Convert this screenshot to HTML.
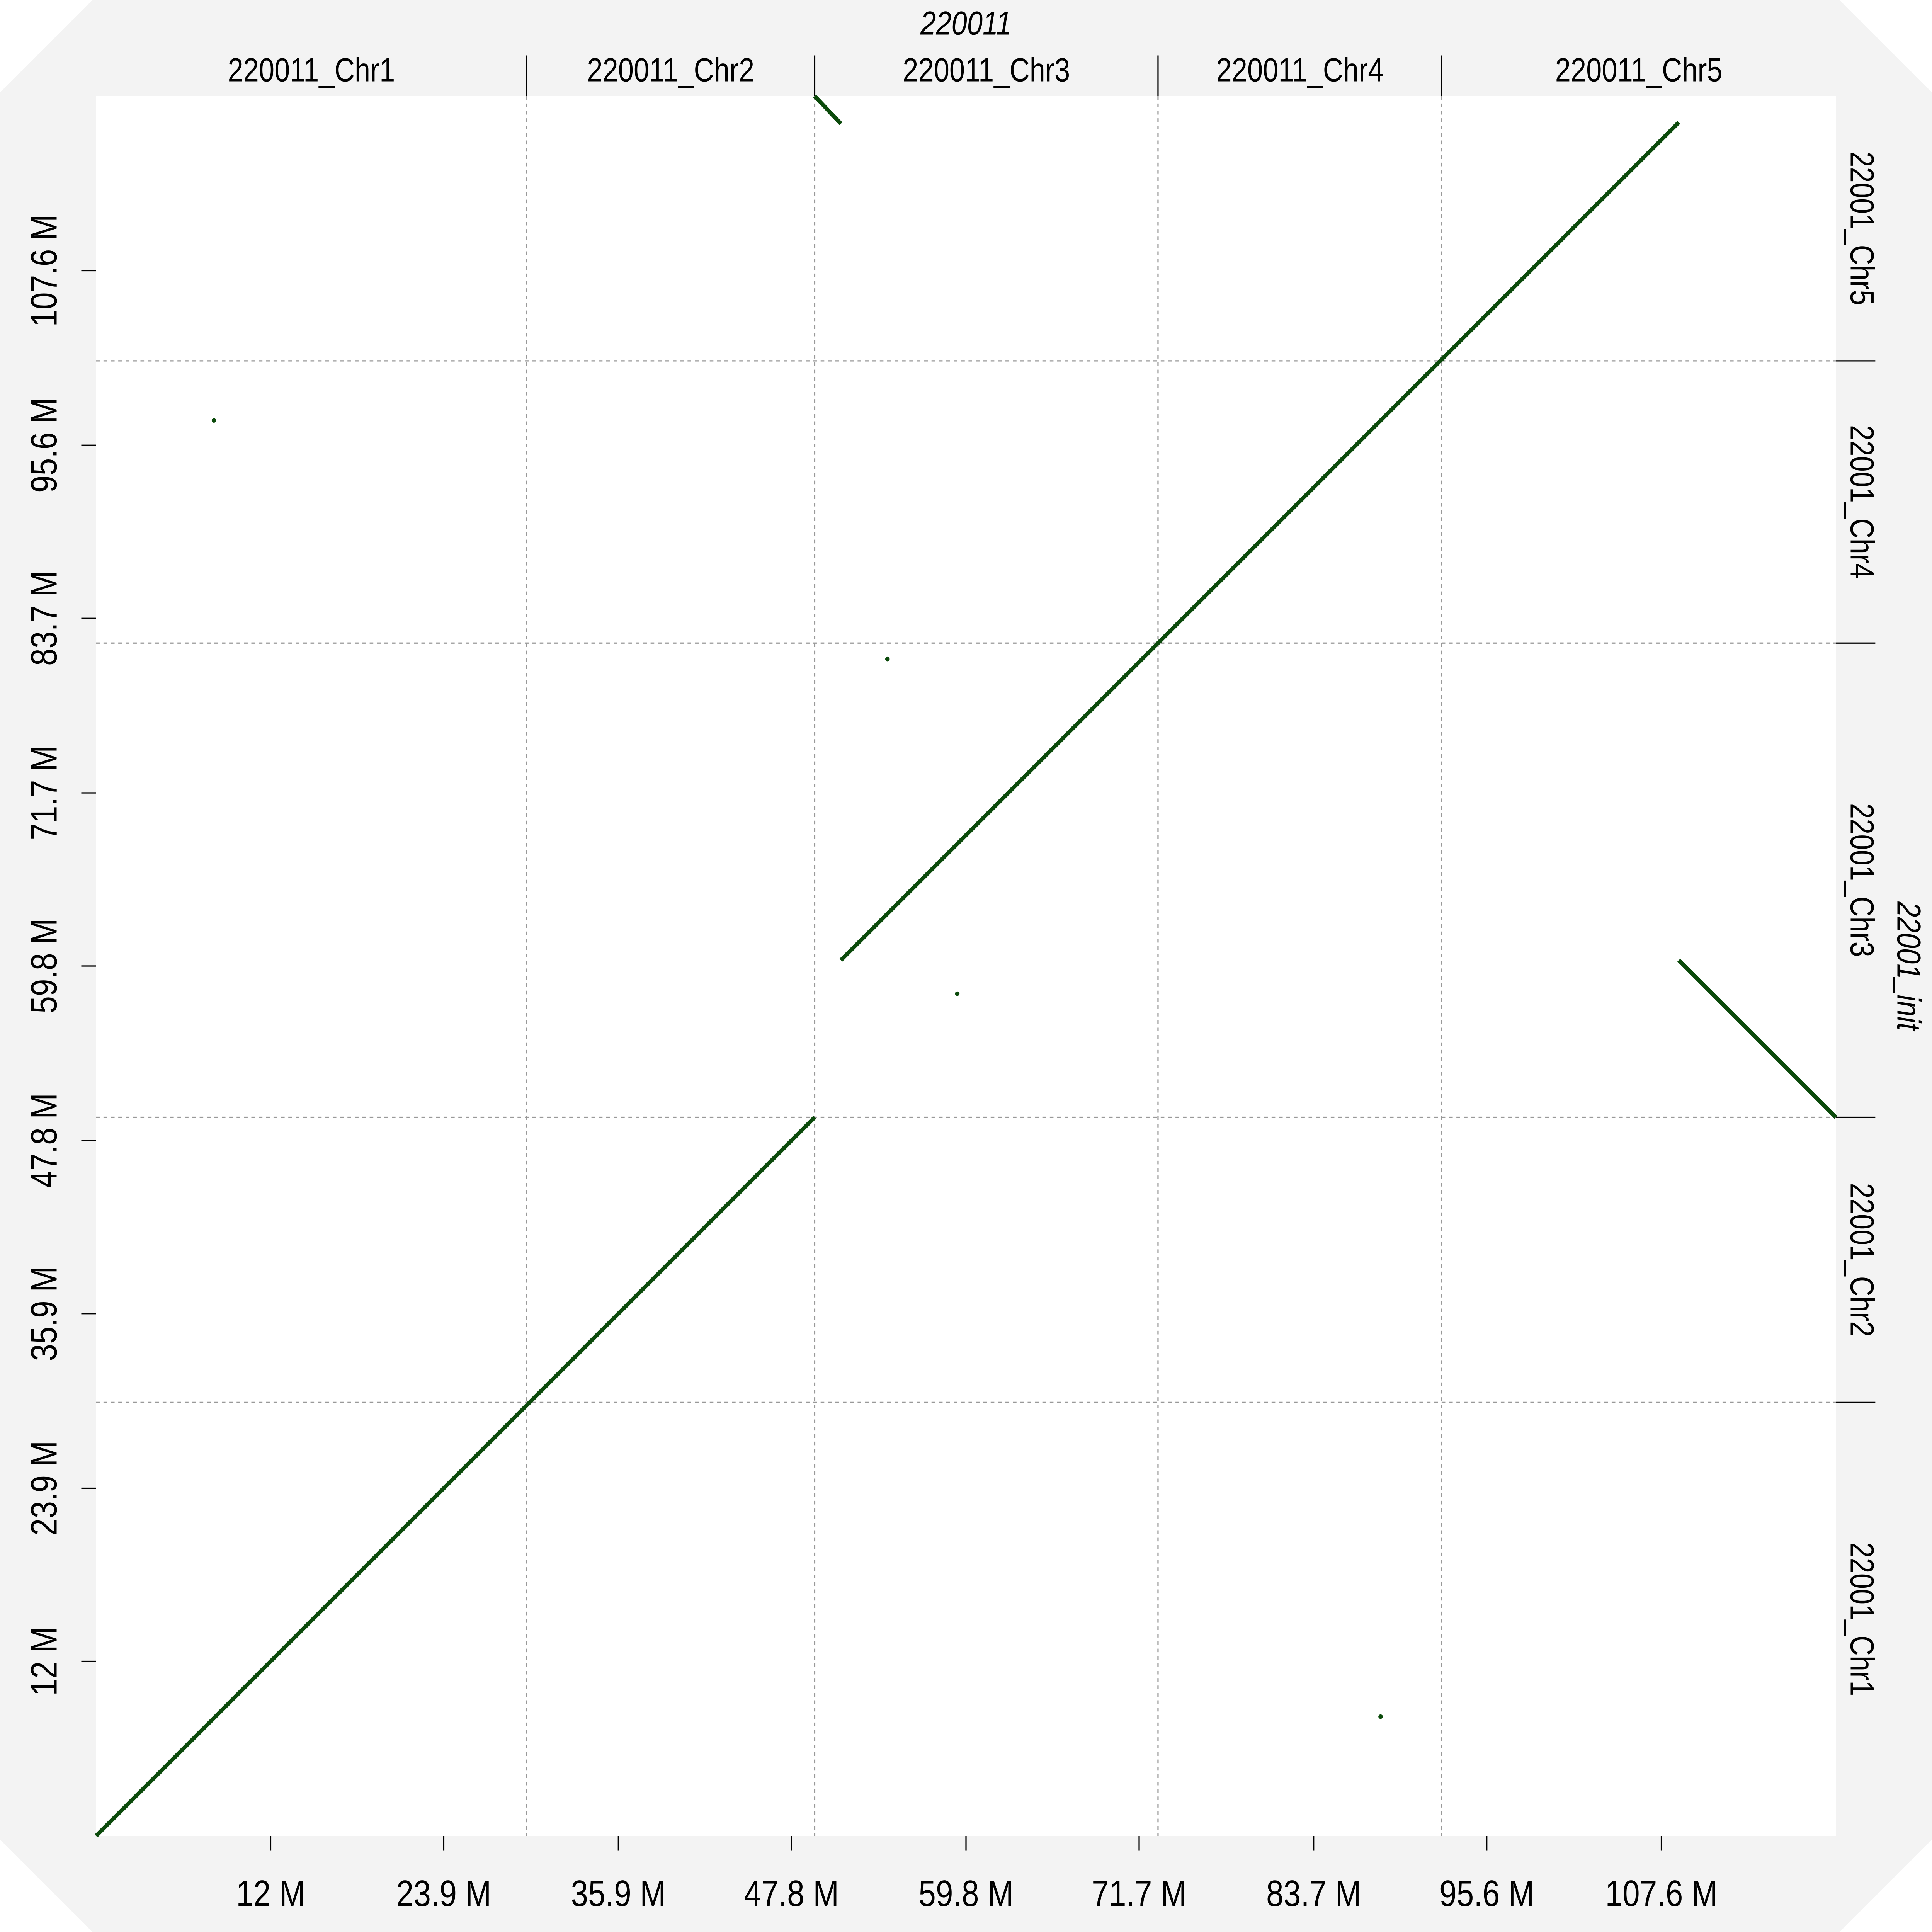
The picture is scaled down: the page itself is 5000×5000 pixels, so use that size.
<!DOCTYPE html>
<html><head><meta charset="utf-8"><style>
html,body{margin:0;padding:0;background:#fff}
svg{display:block}
text{font-family:"Liberation Sans Narrow","Liberation Sans",sans-serif;fill:#000}
</style></head><body>
<svg id="chart" width="5000" height="5000" viewBox="0 0 1568 1568" xmlns="http://www.w3.org/2000/svg">
<rect x="0" y="0" width="1568" height="1568" fill="#f3f3f3"/>
<polygon points="0,0 75,0 0,75" fill="#fff"/>
<polygon points="1568,0 1493,0 1568,75" fill="#fff"/>
<polygon points="0,1568 75,1568 0,1493" fill="#fff"/>
<polygon points="1568,1568 1493,1568 1568,1493" fill="#fff"/>
<rect x="78" y="78" width="1412" height="1412" fill="#fff"/>
<g id="g"></g>
</svg>
<script>
const xTicks=[12,23.9,35.9,47.8,59.8,71.7,83.7,95.6,107.6];
const yTicks=[12,23.9,35.9,47.8,59.8,71.7,83.7,95.6,107.6];
const xChrNames=["220011_Chr1","220011_Chr2","220011_Chr3","220011_Chr4","220011_Chr5"];
const xChrEnds=[29.6,49.4,73.0,92.5,119.6];
const yChrNames=["22001_Chr1","22001_Chr2","22001_Chr3","22001_Chr4","22001_Chr5"];
const yChrEnds=[29.8,49.4,82.0,101.4,119.6];
const segX1=[0,51.2,49.4,108.8];
const segY1=[0,60.2,119.6,60.2];
const segX2=[49.4,108.8,51.2,119.6];
const segY2=[49.4,117.8,117.7,49.4];
const dotX=[8.1,54.4,59.2,88.3];
const dotY=[97.3,80.9,57.9,8.2];

const L=78,R=1490,T=78,B=1490,MAX=119.6,SX=0.84;
const sx=v=>L+v/MAX*(R-L);
const sy=v=>B-v/MAX*(B-T);
const g=document.getElementById('g');
const NS='http://www.w3.org/2000/svg';
function mk(tag,attrs){const e=document.createElementNS(NS,tag);for(const k in attrs)e.setAttribute(k,attrs[k]);g.appendChild(e);return e;}

xChrEnds.forEach((v,i)=>{
  if(i<xChrEnds.length-1){
    const l=mk('line',{x1:sx(v),x2:sx(v),y1:T,y2:B,stroke:'#999','stroke-width':1,'stroke-dasharray':'3,3'});
    
    
    const t=mk('line',{x1:sx(v),x2:sx(v),y1:45,y2:T,stroke:'#000','stroke-width':1});
    
    
  }
  const start=i?xChrEnds[i-1]:0;
  const tx=mk('text',{x:0,y:0,'text-anchor':'middle','font-size':27,transform:`translate(${(sx(start)+sx(v))/2},66) scale(${SX},1)`});
  tx.textContent=xChrNames[i];
  
  
});
yChrEnds.forEach((v,i)=>{
  if(i<yChrEnds.length-1){
    const l=mk('line',{x1:L,x2:R,y1:sy(v),y2:sy(v),stroke:'#999','stroke-width':1,'stroke-dasharray':'3,3'});
    
    
    const t=mk('line',{x1:R,x2:1522,y1:sy(v),y2:sy(v),stroke:'#000','stroke-width':1});
    
    
  }
  const start=i?yChrEnds[i-1]:0;
  const cy=(sy(start)+sy(v))/2;
  const tx=mk('text',{x:0,y:0,'text-anchor':'middle','font-size':27,transform:`translate(1502,${cy}) rotate(90) scale(${SX},1)`});
  tx.textContent=yChrNames[i];
  
  
});
xTicks.forEach(v=>{
  const t=mk('line',{x1:sx(v),x2:sx(v),y1:B,y2:B+12,stroke:'#000','stroke-width':1});
  
  
  const tx=mk('text',{x:0,y:0,'text-anchor':'middle','font-size':30,transform:`translate(${sx(v)},1547) scale(${SX},1)`});
  tx.textContent=v+' M';
  
  
});
yTicks.forEach(v=>{
  const t=mk('line',{x1:L-12,x2:L,y1:sy(v),y2:sy(v),stroke:'#000','stroke-width':1});
  
  
  const tx=mk('text',{x:0,y:0,'text-anchor':'middle','font-size':30,transform:`translate(46,${sy(v)}) rotate(-90) scale(${SX},1)`});
  tx.textContent=v+' M';
  
  
});
const xt=mk('text',{x:0,y:0,'text-anchor':'middle','font-size':27,'font-style':'italic',transform:`translate(784,28) scale(${SX},1)`});
xt.textContent='220011';


const yt=mk('text',{x:0,y:0,'text-anchor':'middle','font-size':27,'font-style':'italic',transform:`translate(1540,784) rotate(90) scale(${SX},1)`});
yt.textContent='22001_init';


segX1.forEach((v,i)=>{
  const l=mk('line',{x1:sx(v),y1:sy(segY1[i]),x2:sx(segX2[i]),y2:sy(segY2[i]),stroke:'#0b4a0b','stroke-width':3.3});
  
  
});
dotX.forEach((v,i)=>{
  const c=mk('circle',{cx:sx(v),cy:sy(dotY[i]),r:1.8,fill:'#0b4a0b'});
  
  
});
</script>
</body></html>
